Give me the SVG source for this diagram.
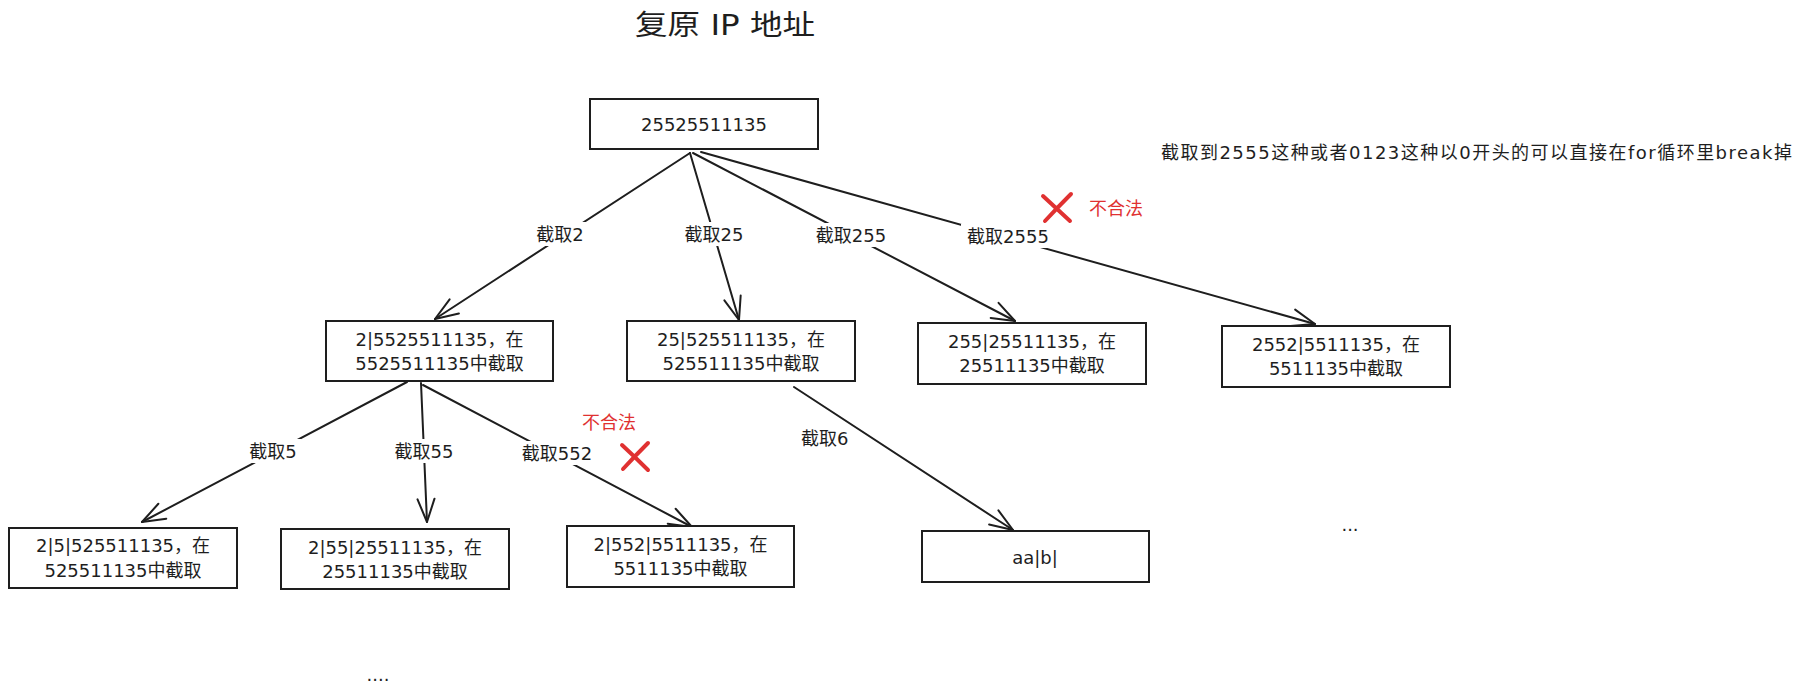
<svg xmlns="http://www.w3.org/2000/svg" width="1804" height="696" viewBox="0 0 1804 696">
  <style>
    .box { fill: #ffffff; stroke: #1e1e1e; stroke-width: 2; }
    .t { font-family: "DejaVu Sans", "Noto Sans CJK SC", sans-serif; font-size: 18px; fill: #1e1e1e; text-anchor: middle; dominant-baseline: central; }
    .red { fill: #e03131; }
    .edge { fill: none; stroke: #1e1e1e; stroke-width: 2; stroke-linecap: round; marker-end: url(#arr); }
    .lblbg { fill: #ffffff; stroke: none; }
    .cross { fill: none; stroke: #e03131; stroke-width: 4; stroke-linecap: round; }
  </style>
  <defs>
    <marker id="arr" markerUnits="userSpaceOnUse" viewBox="-26 -12 30 24" markerWidth="30" markerHeight="24" refX="0" refY="0" orient="auto" overflow="visible">
      <path d="M-23,-8.5 L0,0 L-23,8.5" fill="none" stroke="#1e1e1e" stroke-width="2" stroke-linecap="round" stroke-linejoin="round"/>
    </marker>
  </defs>

  <rect width="1804" height="696" fill="#ffffff"/>

  <!-- title -->
  <text class="t" x="725" y="25" style="font-size:28px" textLength="180" lengthAdjust="spacingAndGlyphs">复原 IP 地址</text>

  <!-- side note -->
  <text class="t" x="1161" y="152" style="text-anchor:start" textLength="631" lengthAdjust="spacing">截取到2555这种或者0123这种以0开头的可以直接在for循环里break掉</text>

  <!-- connectors -->
  <g id="connectors">
    <path class="edge" d="M690,153 L435,319"/>
    <path class="edge" d="M690,153 L739,320"/>
    <path class="edge" d="M693,153 L1015,321"/>
    <path class="edge" d="M701,152 L1315,324"/>
    <path class="edge" d="M407,382 L142,522"/>
    <path class="edge" d="M421,383 L427,522"/>
    <path class="edge" d="M423,385 L692,527"/>
    <path class="edge" d="M794,387 L1013,530"/>

    <!-- edge labels -->
    <rect class="lblbg" x="532" y="222" width="56" height="24"/>
    <text class="t" x="560" y="234">截取2</text>
    <rect class="lblbg" x="681" y="222" width="66" height="24"/>
    <text class="t" x="714" y="234">截取25</text>
    <rect class="lblbg" x="811" y="223" width="81" height="24"/>
    <text class="t" x="851" y="235">截取255</text>
    <rect class="lblbg" x="961" y="224" width="94" height="24"/>
    <text class="t" x="1008" y="236">截取2555</text>
    <rect class="lblbg" x="246" y="439" width="55" height="24"/>
    <text class="t" x="273" y="451">截取5</text>
    <rect class="lblbg" x="391" y="439" width="66" height="24"/>
    <text class="t" x="424" y="451">截取55</text>
    <rect class="lblbg" x="517" y="441" width="81" height="24"/>
    <text class="t" x="557" y="453">截取552</text>
    <text class="t" x="801" y="438" style="text-anchor:start">截取6</text>
  </g>

  <!-- invalid branch marks -->
  <g id="invalid-2555">
    <path class="cross" d="M1043,196 Q1056,208 1070,221 M1071,194 Q1058,207 1045,221"/>
    <text class="t red" x="1116" y="208">不合法</text>
  </g>
  <g id="invalid-552">
    <path class="cross" d="M622,445 Q635,457 648,470 M648,443 Q635,456 623,469"/>
    <text class="t red" x="609" y="422">不合法</text>
  </g>

  <!-- nodes -->
  <g id="root">
    <rect class="box" x="590" y="99" width="228" height="50"/>
    <text class="t" x="704" y="124">25525511135</text>
  </g>
  <g id="n-2">
    <rect class="box" x="326" y="321" width="227" height="60"/>
    <text class="t" x="439.5" y="339">2|5525511135，在</text>
    <text class="t" x="439.5" y="363">5525511135中截取</text>
  </g>
  <g id="n-25">
    <rect class="box" x="627" y="321" width="228" height="60"/>
    <text class="t" x="741" y="339">25|525511135，在</text>
    <text class="t" x="741" y="363">525511135中截取</text>
  </g>
  <g id="n-255">
    <rect class="box" x="918" y="323" width="228" height="61"/>
    <text class="t" x="1032" y="341">255|25511135，在</text>
    <text class="t" x="1032" y="365">25511135中截取</text>
  </g>
  <g id="n-2552">
    <rect class="box" x="1222" y="326" width="228" height="61"/>
    <text class="t" x="1336" y="344">2552|5511135，在</text>
    <text class="t" x="1336" y="368">5511135中截取</text>
  </g>
  <g id="n-2-5">
    <rect class="box" x="9" y="528" width="228" height="60"/>
    <text class="t" x="123" y="545">2|5|525511135，在</text>
    <text class="t" x="123" y="570">525511135中截取</text>
  </g>
  <g id="n-2-55">
    <rect class="box" x="281" y="529" width="228" height="60"/>
    <text class="t" x="395" y="547">2|55|25511135，在</text>
    <text class="t" x="395" y="571">25511135中截取</text>
  </g>
  <g id="n-2-552">
    <rect class="box" x="567" y="526" width="227" height="61"/>
    <text class="t" x="680.5" y="544">2|552|5511135，在</text>
    <text class="t" x="680.5" y="568">5511135中截取</text>
  </g>
  <g id="n-aab">
    <rect class="box" x="922" y="531" width="227" height="51"/>
    <text class="t" x="1035" y="557">aa|b|</text>
  </g>

  <!-- ellipses -->
  <text class="t" x="378" y="674">....</text>
  <text class="t" x="1350" y="524">...</text>
</svg>
